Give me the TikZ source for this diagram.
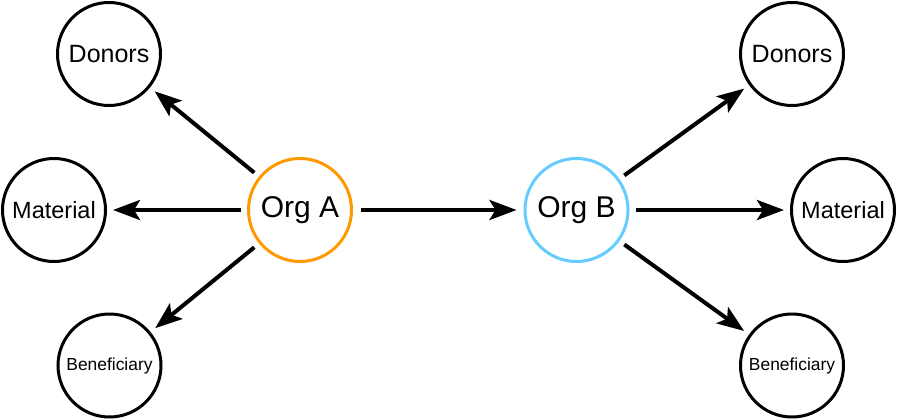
\documentclass[tikz,border=0pt]{standalone}
\usepackage{fontspec}
\setmainfont{Liberation Sans}
\usetikzlibrary{arrows.meta}
\definecolor{orgA}{HTML}{FF9900}
\definecolor{orgB}{HTML}{66CCFF}
\tikzset{
  ent/.style={circle, draw=black, line width=3pt, minimum size=103pt, inner sep=0pt, align=center},
  flow/.style={line width=4pt, -{Stealth[length=27pt,width=20pt,inset=6pt]}, shorten <=6pt, shorten >=6pt},
}
\begin{document}
\begin{tikzpicture}[x=1pt,y=-1pt]
\useasboundingbox (0,0) rectangle (897,420);
\node[ent, draw=orgA, font=\fontsize{30}{32}\selectfont] (A) at (300,210) {Org A};
\node[ent, draw=orgB, font=\fontsize{30}{32}\selectfont] (B) at (576.5,210) {Org B};
\node[ent, font=\fontsize{25}{27}\selectfont] (dl) at (109,54) {Donors};
\node[ent, font=\fontsize{23.5}{25}\selectfont] (ml) at (54,210) {Material};
\node[ent, font=\fontsize{17.4}{19}\selectfont] (bl) at (109.5,365.5) {Beneficiary};
\node[ent, font=\fontsize{25}{27}\selectfont] (dr) at (792,54) {Donors};
\node[ent, font=\fontsize{23.5}{25}\selectfont] (mr) at (843,210) {Material};
\node[ent, font=\fontsize{17.4}{19}\selectfont] (br) at (792,365.5) {Beneficiary};
\draw[flow] (A) -- (dl);
\draw[flow] (A) -- (ml);
\draw[flow] (A) -- (bl);
\draw[flow, shorten <=8pt, shorten >=7pt] (A) -- (B);
\draw[flow] (B) -- (dr);
\draw[flow] (B) -- (mr);
\draw[flow] (B) -- (br);
\end{tikzpicture}
\end{document}
